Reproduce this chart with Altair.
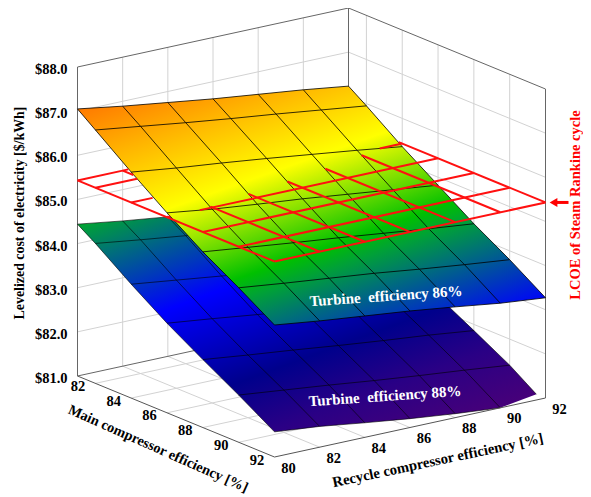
import altair as alt
import numpy as np
import pandas as pd

# ---------- data ----------
MAIN_GRID = [81, 82, 84, 86, 88, 90, 92]
RECYCLE_GRID = [80, 82, 84, 86, 88, 90, 92]
Z_TICKS = [81, 82, 83, 84, 85, 86, 87, 88]
Z_LABELS = ["$81.0", "$82.0", "$83.0", "$84.0", "$85.0", "$86.0", "$87.0", "$88.0"]
MAIN_LABELS = ["82", "84", "86", "88", "90", "92"]
RECYCLE_LABELS = ["80", "82", "84", "86", "88", "90", "92"]

TURBINE_86 = [
    [87.05, 86.89, 86.75, 86.61, 86.49, 86.37, 86.23],
    [86.74, 86.60, 86.46, 86.33, 86.21, 86.08, 85.95],
    [86.12, 85.99, 85.88, 85.76, 85.63, 85.50, 85.36],
    [85.53, 85.39, 85.28, 85.18, 85.06, 84.94, 84.82],
    [84.98, 84.86, 84.74, 84.63, 84.51, 84.39, 84.28],
    [84.50, 84.38, 84.27, 84.16, 84.03, 83.91, 83.80],
    [83.99, 83.86, 83.75, 83.64, 83.51, 83.37, 83.27],
]
TURBINE_88 = [
    [84.44, 84.29, 84.16, 84.02, 83.88, 83.74, 83.60],
    [84.17, 84.03, 83.90, 83.76, 83.62, 83.48, 83.35],
    [83.58, 83.45, 83.32, 83.19, 83.05, 82.92, 82.80],
    [83.03, 82.91, 82.78, 82.66, 82.54, 82.42, 82.30],
    [82.54, 82.42, 82.31, 82.19, 82.08, 81.98, 81.86],
    [82.07, 81.96, 81.85, 81.73, 81.62, 81.52, 81.41],
    [81.57, 81.47, 81.33, 81.20, 81.09, 81.00, 80.86],
]
LCOE_RANKINE = 85.43

COLOR_Z = [81.0, 81.6, 82.2, 83.2, 84.0, 84.35, 84.6, 85.1, 85.6, 86.4, 87.1]
COLOR_HEX = ["#45007a", "#2a0085", "#00008c", "#0000ff", "#007078", "#00a038", "#00c000",
             "#80e000", "#ffff00", "#ffb400", "#ff7000"]

# ---------- oblique projection of the 3D box onto the page ----------
M0, M1, R0, R1, Z0, Z1 = 81.0, 92.0, 80.0, 92.0, 81.0, 88.0
ORIGIN = (77.5, 376.0)
PX_M = (197.0 / 11, 81.0 / 11)
PX_R = (271.0 / 12, -59.0 / 12)
PX_Z = 309.0 / 7


def proj(m, r, z):
    return (ORIGIN[0] + PX_M[0] * (m - M0) + PX_R[0] * (r - R0),
            ORIGIN[1] + PX_M[1] * (m - M0) + PX_R[1] * (r - R0) - PX_Z * (z - Z0))


def surf(table, m, r):
    t = np.array(table)
    mi = np.clip(np.searchsorted(MAIN_GRID, m, side="right") - 1, 0, 5)
    ri = np.clip(np.searchsorted(RECYCLE_GRID, r, side="right") - 1, 0, 5)
    a = (m - MAIN_GRID[mi]) / (MAIN_GRID[mi + 1] - MAIN_GRID[mi])
    b = (r - RECYCLE_GRID[ri]) / (RECYCLE_GRID[ri + 1] - RECYCLE_GRID[ri])
    return ((1 - a) * (1 - b) * t[mi, ri] + a * (1 - b) * t[mi + 1, ri]
            + (1 - a) * b * t[mi, ri + 1] + a * b * t[mi + 1, ri + 1])


def seg(rows, p, q):
    rows.append({"x": p[0], "y": p[1], "x2": q[0], "y2": q[1]})


def keep_above_floor(path):
    out = []
    for i, (m, r, z) in enumerate(path):
        if z >= Z0:
            out.append((m, r, z))
        elif i and path[i - 1][2] >= Z0:
            pm, pr, pz = path[i - 1]
            f = (pz - Z0) / (pz - z)
            out.append((pm + f * (m - pm), pr + f * (r - pr), Z0))
    return out


def surface_area(table):
    t = table
    top = [(M0, r, t[0][j]) for j, r in enumerate(RECYCLE_GRID)]
    top += [(m, R1, t[i][6]) for i, m in enumerate(MAIN_GRID)][1:]
    bot = [(m, R0, t[i][0]) for i, m in enumerate(MAIN_GRID)]
    bot += [(M1, r, t[6][j]) for j, r in enumerate(RECYCLE_GRID)][1:]
    top, bot = keep_above_floor(top), keep_above_floor(bot)
    if top[-1][:2] != bot[-1][:2]:
        bot.append(top[-1])
    tp = np.array([proj(*p) for p in top])
    bp = np.array([proj(*p) for p in bot])
    xs = np.unique(np.concatenate([tp[:, 0], bp[:, 0]]))
    return pd.DataFrame({"x": xs, "y": np.interp(xs, tp[:, 0], tp[:, 1]),
                         "y2": np.interp(xs, bp[:, 0], bp[:, 1])})


def surface_gradient(table, df):
    # a nearly flat surface: its height is a plane over the page, so one linear gradient colours it
    pts, zs = [], []
    for i, m in enumerate(MAIN_GRID):
        for j, r in enumerate(RECYCLE_GRID):
            z = table[i][j]
            px = proj(m, r, z)
            pts.append((px[0], px[1], 1.0))
            zs.append(z)
    a, b, c = np.linalg.lstsq(np.array(pts), np.array(zs), rcond=None)[0]
    x0, x1 = df.x.min(), df.x.max()
    y0, y1 = df.y.min(), df.y2.max()
    au, av = a * (x1 - x0), b * (y1 - y0)
    zc = c + a * (x0 + x1) / 2 + b * (y0 + y1) / 2
    n2 = au * au + av * av
    zlo, zhi = COLOR_Z[0], COLOR_Z[-1]
    stops = [alt.GradientStop(offset=float((z - zlo) / (zhi - zlo)), color=col)
             for z, col in zip(COLOR_Z, COLOR_HEX)]
    return alt.LinearGradient(
        gradient="linear", stops=stops,
        x1=float(.5 + (zlo - zc) / n2 * au), y1=float(.5 + (zlo - zc) / n2 * av),
        x2=float(.5 + (zhi - zc) / n2 * au), y2=float(.5 + (zhi - zc) / n2 * av))


def mesh(table):
    rows = []
    for i, m in enumerate(MAIN_GRID):
        path = keep_above_floor([(m, r, table[i][j]) for j, r in enumerate(RECYCLE_GRID)])
        for p, q in zip(path, path[1:]):
            seg(rows, proj(*p), proj(*q))
    for j, r in enumerate(RECYCLE_GRID):
        path = keep_above_floor([(m, r, table[i][j]) for i, m in enumerate(MAIN_GRID)])
        for p, q in zip(path, path[1:]):
            seg(rows, proj(*p), proj(*q))
    return pd.DataFrame(rows)


# view direction in (main, recycle, z): moving along it keeps the same page position
VIEW_R = -PX_M[0] / PX_R[0]
VIEW_Z = (PX_M[1] + PX_R[1] * VIEW_R) / PX_Z


def plane_visible(m, r):
    if surf(TURBINE_86, m, r) <= LCOE_RANKINE:
        return True
    for t in np.arange(0.02, 12, 0.02):
        mm, rr = m + t, r + VIEW_R * t
        if mm > M1 or rr < R0:
            return True
        if surf(TURBINE_86, mm, rr) <= LCOE_RANKINE + VIEW_Z * t:
            return False
    return True


def red_lattice():
    rows = []
    lines = [[(m, r) for r in np.linspace(R0, R1, 241)] for m in MAIN_GRID]
    lines += [[(m, r) for m in np.linspace(M0, M1, 221)] for r in RECYCLE_GRID]
    for line in lines:
        run = None
        for m, r in line:
            if plane_visible(m, r):
                run = run or (m, r)
                last = (m, r)
            elif run:
                seg(rows, proj(*run, LCOE_RANKINE), proj(*last, LCOE_RANKINE))
                run = None
        if run:
            seg(rows, proj(*run, LCOE_RANKINE), proj(*last, LCOE_RANKINE))
    return pd.DataFrame(rows)


# ---------- box ----------
grid_rows, edge_rows = [], []
for m in MAIN_GRID[1:-1]:
    seg(grid_rows, proj(m, R0, Z0), proj(m, R1, Z0))
    seg(grid_rows, proj(m, R1, Z0), proj(m, R1, Z1))
for r in RECYCLE_GRID[1:-1]:
    seg(grid_rows, proj(M0, r, Z0), proj(M1, r, Z0))
    seg(grid_rows, proj(M0, r, Z0), proj(M0, r, Z1))
for z in Z_TICKS[1:-1]:
    seg(grid_rows, proj(M0, R0, z), proj(M0, R1, z))
    seg(grid_rows, proj(M0, R1, z), proj(M1, R1, z))
seg(edge_rows, proj(M0, R0, Z0), proj(M0, R0, Z1))
seg(edge_rows, proj(M0, R0, Z1), proj(M0, R1, Z1))
seg(edge_rows, proj(M0, R1, Z1), proj(M1, R1, Z1))
seg(edge_rows, proj(M0, R1, Z0), proj(M0, R1, Z1))
seg(edge_rows, proj(M1, R1, Z0), proj(M1, R1, Z1))
seg(edge_rows, proj(M0, R0, Z0), proj(M0, R1, Z0))
front_rows = []
seg(front_rows, proj(M0, R0, Z0), proj(M1, R0, Z0))
seg(front_rows, proj(M1, R0, Z0), proj(M1, R1, Z0))

# ---------- page scales ----------
W, H = 575, 489
X = alt.X("x:Q", axis=None, scale=alt.Scale(domain=[8, 8 + W], nice=False, zero=False))
Y = alt.Y("y:Q", axis=None, scale=alt.Scale(domain=[8 + H, 8], nice=False, zero=False))
SERIF = "Liberation Serif"


def rules(rows, color, width):
    df = rows if isinstance(rows, pd.DataFrame) else pd.DataFrame(rows)
    return alt.Chart(df).mark_rule(color=color, strokeWidth=width).encode(
        x=X, y=Y, x2="x2:Q", y2="y2:Q")


def area(table):
    df = surface_area(table)
    return alt.Chart(df).mark_area(color=surface_gradient(table, df), line=False).encode(
        x=X, y=Y, y2="y2:Q")


def text(df, size, color="black", angle=0, align="center"):
    return alt.Chart(df).mark_text(font=SERIF, fontWeight="bold", fontSize=size, color=color,
                                   angle=angle, align=align, baseline="middle").encode(
        x=X, y=Y, text="t:N")


z_text = pd.DataFrame({"t": Z_LABELS, "x": [67.5] * 8, "y": [proj(M0, R0, z)[1] + 3 for z in Z_TICKS]})
main_ticks = [proj(m, R0, Z0) for m in MAIN_GRID[1:]]
main_text = pd.DataFrame({"t": MAIN_LABELS, "x": [p[0] - 17.5 for p in main_ticks],
                          "y": [p[1] + 3.5 for p in main_ticks]})
rec_ticks = [proj(M1, r, Z0) for r in RECYCLE_GRID]
rec_text = pd.DataFrame({"t": RECYCLE_LABELS, "x": [p[0] + 14 for p in rec_ticks],
                         "y": [p[1] + 11.5 for p in rec_ticks]})


def label(t, x, y):
    return pd.DataFrame({"t": [t], "x": [x], "y": [y]})


arrow_tip = proj(M1, R1, LCOE_RANKINE)
arrow = pd.DataFrame({"x": [arrow_tip[0] + 8], "y": [arrow_tip[1]],
                      "x2": [arrow_tip[0] + 23], "y2": [arrow_tip[1]]})

chart = alt.layer(
    rules(grid_rows, "#d2d2d2", 1),
    rules(edge_rows, "#666666", 1),
    area(TURBINE_88),
    rules(mesh(TURBINE_88), "#000000", 0.6),
    area(TURBINE_86),
    rules(mesh(TURBINE_86), "#000000", 0.8),
    rules(red_lattice(), "#ff1010", 2),
    rules(front_rows, "#555555", 1),
    rules(arrow, "#ff0000", 3),
    alt.Chart(arrow).mark_point(shape="triangle-left", filled=True, color="#ff0000", size=80,
                                opacity=1).encode(x=X, y=Y),
    text(z_text, 14.5, align="right"),
    text(main_text, 14.5),
    text(rec_text, 14.5),
    text(label("Levelized cost of electricity [$/kWh]", 20, 213), 13.9, angle=270),
    text(label("Main compressor efficiency [%]", 158, 449), 14.3, angle=24),
    text(label("Recycle compressor efficiency [%]", 438, 461), 14.7, angle=348),
    text(label("LCOE of Steam Rankine cycle", 576, 205), 14.5, color="#ff0000", angle=270),
    text(label("Turbine\u00a0 efficiency 86%", 386, 296), 15, color="white", angle=356),
    text(label("Turbine\u00a0 efficiency 88%", 385, 396), 15, color="white", angle=356),
).properties(width=W, height=H, padding=0, autosize=alt.AutoSizeParams(type="none")).configure_view(stroke=None)

chart.save("out.html", embed_options={"renderer": "svg", "actions": False})
